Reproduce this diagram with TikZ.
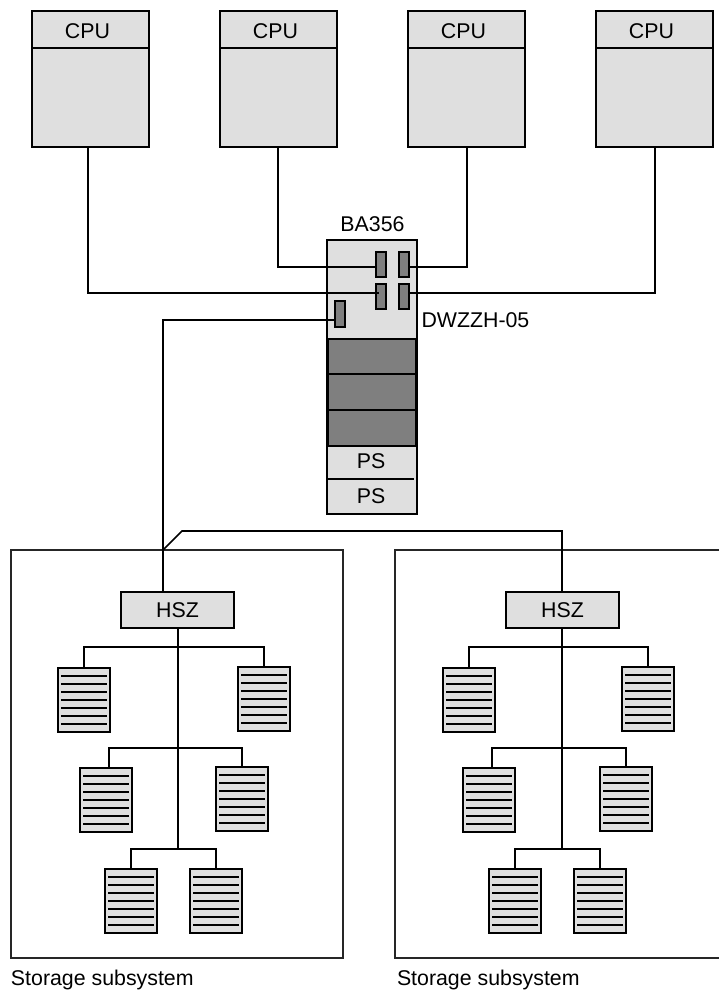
\documentclass[tikz,border=0pt]{standalone}
\usepackage{fontspec}
\setmainfont{Liberation Sans}
\definecolor{boxgray}{HTML}{DFDFDF}
\definecolor{darkgray2}{HTML}{7F7F7F}
\newcommand{\pxbox}[7][]{%
  \pgfmathsetmacro{\cxv}{(#3+#5)/2}\pgfmathsetmacro{\cyv}{(#4+#6)/2}%
  \pgfmathsetmacro{\wv}{(#5-#3)*0.75}\pgfmathsetmacro{\hv}{(#6-#4)*0.75}%
  \node[unit,#1,minimum width=\wv pt,minimum height=\hv pt] (#2) at (\cxv,\cyv) {#7};}
\newcommand{\disk}[3]{%
  \pxbox[diskbox]{#1}{#2}{#3}{#2+52}{#3+64}{}%
  \foreach \k in {1,...,7}{\draw[stripe] ($(#1.north west)+(3,8*\k)$) -- ($(#1.north east)+(-3,8*\k)$);}}
\usetikzlibrary{calc}
\begin{document}
\begin{tikzpicture}[x=0.75pt,y=-0.75pt,
  unit/.style={draw=black,rectangle,inner sep=0pt,outer sep=0pt,line width=1.5pt,fill=boxgray,text=black,font=\fontsize{16pt}{18pt}\selectfont},
  diskbox/.style={line width=1.4pt},
  portbox/.style={fill=darkgray2,line width=1.3pt},
  darkbox/.style={fill=darkgray2,line width=1.5pt},
  frame/.style={draw=black!85,line width=1.9pt},
  wire/.style={draw=black,line width=1.2pt},
  stripe/.style={draw=black,line width=1.1pt},
  label/.style={inner sep=0pt,outer sep=0pt,font=\fontsize{16pt}{18pt}\selectfont}]
\useasboundingbox (0,0) rectangle (719,991);
% CPUs
\pxbox{cpu1}{32}{11}{149}{147}{}
\pxbox{cpu2}{220}{11}{337}{147}{}
\pxbox{cpu3}{408}{11}{525}{147}{}
\pxbox{cpu4}{596}{11}{713}{147}{}
\foreach \n in {1,2,3,4}{
  \draw[line width=1.2pt] (cpu\n.north west |- 0,48) -- (cpu\n.north east |- 0,48);
  \node[label] (cpulabel\n) at ($(cpu\n.north)+(-3,20.5)$) {CPU};
}
% BA356 shelf
\pxbox{shelf}{327}{240}{417}{514}{}
\node[label] (ba) at (372.5,224.5) {BA356};
\pxbox[darkbox]{slot1}{328}{339}{416}{374}{}
\pxbox[darkbox]{slot2}{328}{374}{416}{410}{}
\pxbox[darkbox]{slot3}{328}{410}{416}{446}{}
\draw[line width=1.2pt] (328,479) -- (414,479);
\node[label] (ps1) at (371,461.5) {PS};
\node[label] (ps2) at (371,496) {PS};
\pxbox[portbox]{p1}{376}{252}{386}{277}{}
\pxbox[portbox]{p2}{399}{252}{409}{277}{}
\pxbox[portbox]{p3}{376}{284}{386}{309}{}
\pxbox[portbox]{p4}{399}{284}{409}{309}{}
\pxbox[portbox]{p5}{335}{301}{345}{327}{}
\node[label,anchor=west] (dw) at (421.5,320.5) {DWZZH-05};
% Storage frames
\node[frame,rectangle,inner sep=0pt,outer sep=0pt,minimum width=249pt,minimum height=306pt] (s1) at (177,754) {};
\draw[frame] (719,550) -- (395,550) -- (395,958) -- (719,958);
\node[label,anchor=west] (st1) at (11,979.5) {Storage subsystem};
\node[label,anchor=west] (st2) at (397,979.5) {Storage subsystem};
% HSZ
\pxbox{hsz1}{121}{592}{234}{628}{HSZ}
\pxbox{hsz2}{506}{592}{619}{628}{HSZ}
% disks left
\disk{d1}{58}{668}
\disk{d2}{238}{667}
\disk{d3}{80}{768}
\disk{d4}{216}{767}
\disk{d5}{105}{869}
\disk{d6}{190}{869}
% disks right
\disk{e1}{443}{668}
\disk{e2}{622}{667}
\disk{e3}{463}{768}
\disk{e4}{600}{767}
\disk{e5}{489}{869}
\disk{e6}{574}{869}
% host wires
\coordinate (w1) at (379,293);
\coordinate (w2) at (376,267);
\coordinate (w3) at (408,267);
\coordinate (w4) at (409,293);
\coordinate (tee) at (163,550);
\draw[wire] (cpu1.south -| 88,0) |- (w1);
\draw[wire] (cpu2.south -| 278,0) |- (w2);
\draw[wire] (cpu3.south -| 467,0) |- (w3);
\draw[wire] (cpu4.south -| 655,0) |- (w4);
\draw[wire] (p5.west |- 0,320) -| (hsz1.north -| 163,0);
\draw[wire] (tee) -- (182,531) -| (hsz2.north -| 562,0);
% trunks and branches, left
\coordinate (t1) at (178,849);
\draw[wire] (hsz1.south -| 178,0) -- (t1);
\draw[wire,line width=1.4pt] (d1.north) |- (d2.north |- 0,647) -- (d2.north);
\draw[wire] ($(d3.north)+(3,0)$) |- (d4.north |- 0,748) -- (d4.north);
\draw[wire] (d5.north) |- (d6.north |- 0,849) -- (d6.north);
% trunks and branches, right
\coordinate (t2) at (562,849);
\draw[wire] (hsz2.south -| 562,0) -- (t2);
\draw[wire] (e1.north) |- (e2.north |- 0,647) -- (e2.north);
\draw[wire] ($(e3.north)+(3,0)$) |- (e4.north |- 0,748) -- (e4.north);
\draw[wire] (e5.north) |- (e6.north |- 0,849) -- (e6.north);
\end{tikzpicture}
\end{document}
